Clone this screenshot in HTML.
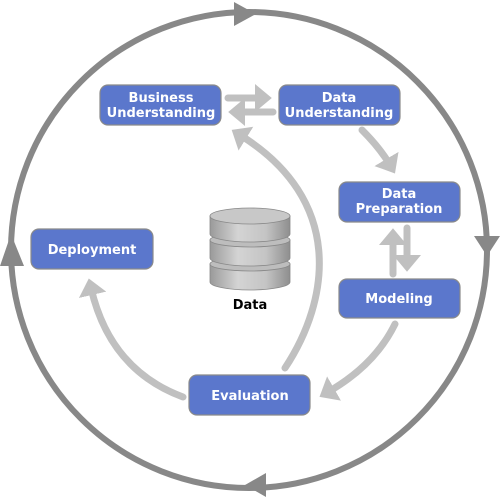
<!DOCTYPE html>
<html><head><style>
html,body{margin:0;padding:0;background:#fff;width:500px;height:500px;overflow:hidden}
svg{display:block}
.t{font-family:"DejaVu Sans","Liberation Sans",sans-serif;font-weight:bold;font-size:13px;fill:#fff;text-anchor:middle}
</style></head><body>
<svg width="500" height="500" viewBox="0 0 500 500">
<defs>
<marker id="lh" markerWidth="4" markerHeight="4" refX="1" refY="2" orient="auto" markerUnits="strokeWidth">
<path d="M0,0 L2.4,2 L0,4 Z" fill="#c0c0c0"/></marker>
<linearGradient id="cyl" x1="0" x2="1" y1="0" y2="0">
<stop offset="0" stop-color="#9a9a9a"/><stop offset="0.35" stop-color="#d4d4d4"/><stop offset="0.7" stop-color="#c4c4c4"/><stop offset="1" stop-color="#8e8e8e"/></linearGradient>
</defs>
<circle cx="249" cy="250" r="238" fill="none" stroke="#888" stroke-width="6"/>
<polygon points="234,2 256,14 234,26" fill="#888"/>
<polygon points="474,236 500,236 487,256" fill="#888"/>
<polygon points="266,473 266,497 245,485" fill="#888"/>
<polygon points="0,266 24,266 11,234" fill="#888"/>
<g fill="none" stroke="#c0c0c0" stroke-width="7" stroke-linecap="round">
<line x1="228" y1="98" x2="262" y2="98" marker-end="url(#lh)"/>
<line x1="273" y1="112" x2="238" y2="112" marker-end="url(#lh)"/>
<path d="M362,130 Q380,148 390,165" marker-end="url(#lh)"/>
<line x1="407" y1="228" x2="407" y2="262" marker-end="url(#lh)"/>
<line x1="393" y1="274" x2="393" y2="238" marker-end="url(#lh)"/>
<path d="M395,324 Q375,365 328,392" marker-end="url(#lh)"/>
<path d="M285,368 C330,300 345,200 240,135" marker-end="url(#lh)"/>
<path d="M183,397 Q110,370 91,288" marker-end="url(#lh)"/>
</g>
<g fill="#5b77cc" stroke="#8a8a8a" stroke-width="1.2">
<rect x="100" y="85" width="121" height="40" rx="8"/>
<rect x="279" y="85" width="121" height="40" rx="8"/>
<rect x="339" y="182" width="121" height="40" rx="8"/>
<rect x="339" y="279" width="121" height="39" rx="8"/>
<rect x="189" y="375" width="121" height="40" rx="8"/>
<rect x="31" y="229" width="122" height="40" rx="8"/>
</g>
<text class="t" x="161" y="102">Business</text>
<text class="t" x="161" y="117">Understanding</text>
<text class="t" x="339" y="102">Data</text>
<text class="t" x="339" y="117">Understanding</text>
<text class="t" x="399" y="198">Data</text>
<text class="t" x="399" y="213">Preparation</text>
<text class="t" x="399" y="303">Modeling</text>
<text class="t" x="250" y="400">Evaluation</text>
<text class="t" x="92" y="254">Deployment</text>
<g stroke="#888" stroke-width="0.8">
<path d="M210,264 L210,282 A40,8 0 0 0 290,282 L290,264 Z" fill="url(#cyl)"/>
<ellipse cx="250" cy="264" rx="40" ry="7" fill="#bdbdbd"/>
<path d="M210,240 L210,258 A40,8 0 0 0 290,258 L290,240 Z" fill="url(#cyl)"/>
<ellipse cx="250" cy="240" rx="40" ry="7" fill="#bdbdbd"/>
<path d="M210,216 L210,234 A40,8 0 0 0 290,234 L290,216 Z" fill="url(#cyl)"/>
<ellipse cx="250" cy="216" rx="40" ry="8" fill="#c8c8c8"/>
</g>
<text x="250" y="309" font-family="DejaVu Sans,Liberation Sans,sans-serif" font-weight="bold" font-size="13" text-anchor="middle" fill="#000">Data</text>
</svg>
</body></html>
